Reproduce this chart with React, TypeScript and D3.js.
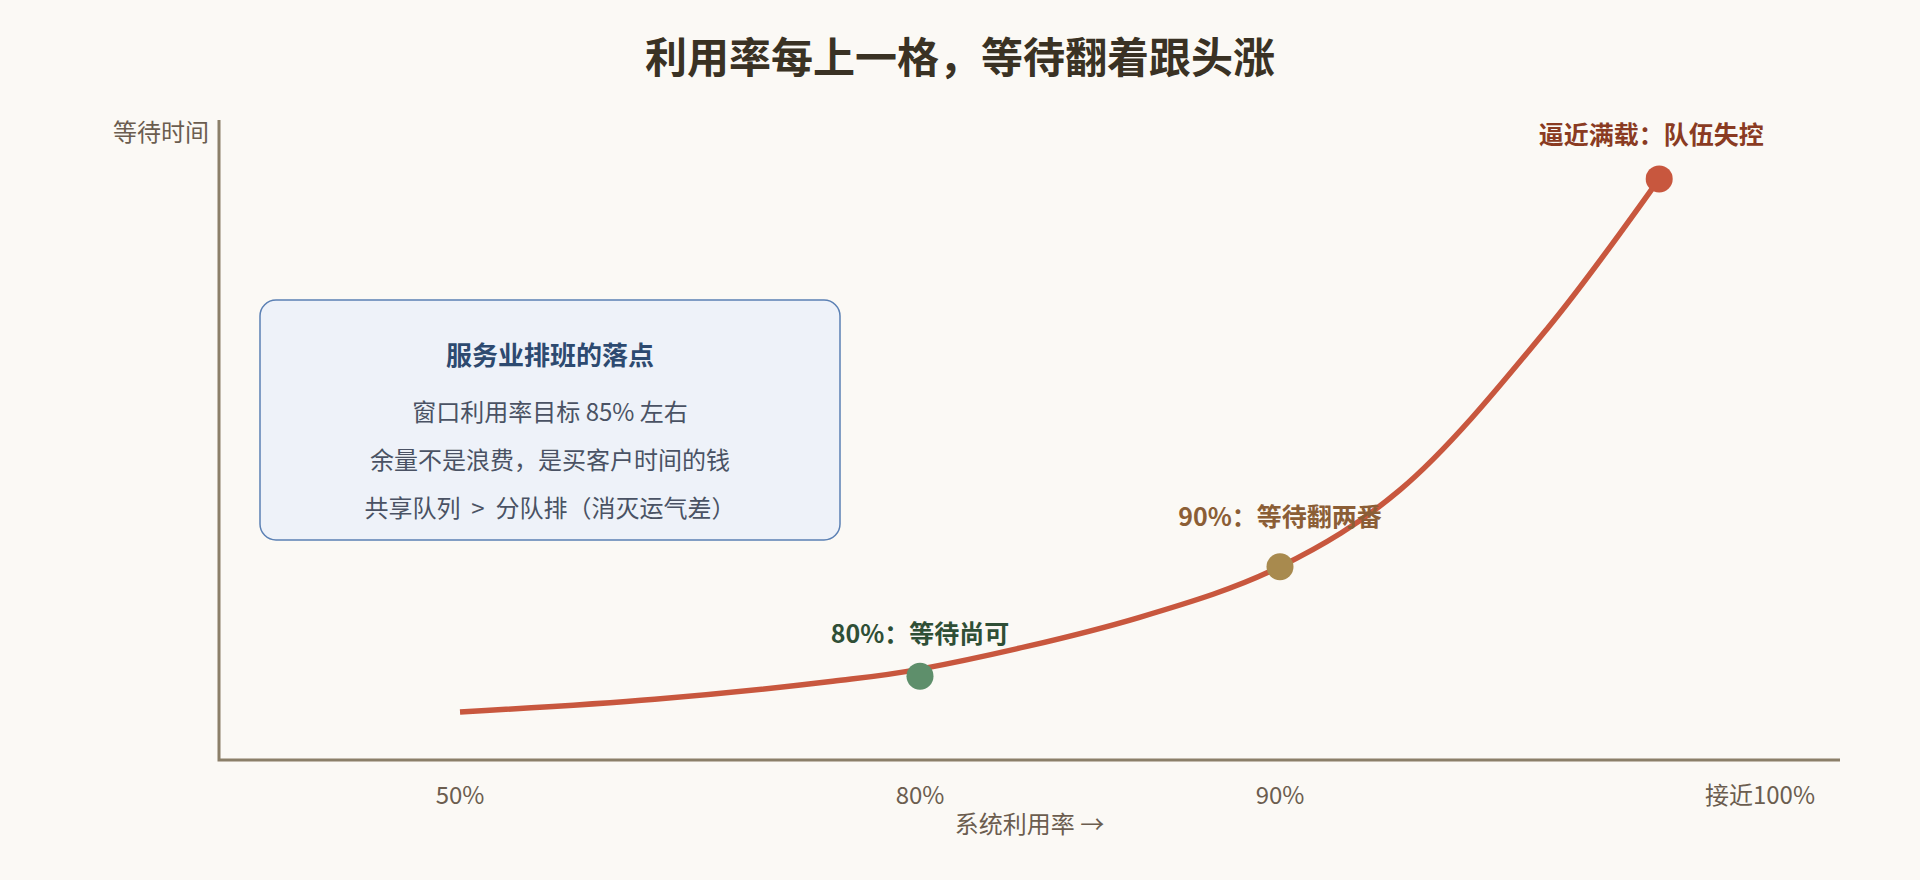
import * as React from 'react';
import * as d3 from 'd3';

// wait curve: utilization (%) -> relative wait index (0-100)
const curveUtil = [50, 62.7, 74.3, 80, 86.1, 90, 92.5, 95.6, 97.9];
const curveWait = [7.5, 9.5, 12.3, 14.2, 22.3, 30.2, 42.2, 67.7, 90.8];

// highlighted points
const markerUtil = [80, 90, 97.9];
const markerWait = [13.1, 30.2, 90.8];
const markerLabels = ['80%：等待尚可', '90%：等待翻两番', '逼近满载：队伍失控'];

// x ticks
const tickValues = [50, 80, 90, 100];
const tickLabels = ['50%', '80%', '90%', '接近100%'];

const noteTitle = '服务业排班的落点';
const noteLines = [
  '窗口利用率目标 85% 左右',
  '余量不是浪费，是买客户时间的钱',
  '共享队列\u00a0\u00a0>\u00a0\u00a0分队排（消灭运气差）',
];

const FONT = '"Noto Sans CJK SC", "Noto Sans", sans-serif';
const W = 1920;
const H = 880;
const plot = { left: 219, right: 1840, top: 120, bottom: 760 };

const markerFill = ['#5e8f6b', '#a88a4e', '#c8573e'];
const labelFill = ['#2f4f36', '#8b5e36', '#8a3b22'];
const labelDx = [0, 0, -8];
const labelDy = [-33, -41, -35];

export default function App() {
  // the x axis is stretched near full load, so piecewise linear
  const x = d3.scaleLinear().domain(tickValues).range([460, 920, 1280, 1760]);
  const y = d3.scaleLinear().domain([0, 100]).range([plot.bottom, plot.top]);

  const line = d3.line<number>()
    .x((i) => x(curveUtil[i]))
    .y((i) => y(curveWait[i]))
    .curve(d3.curveCatmullRom.alpha(0.5));
  const path = line(d3.range(curveUtil.length)) as string;

  const box = { x: 260, y: 300, w: 580, h: 240 };
  const cx = box.x + box.w / 2;

  return (
    <div style={{ position: 'fixed', left: 0, top: 0, width: W, height: H, background: '#fbf9f5' }}>
      <svg width={W} height={H} style={{ display: 'block' }} fontFamily={FONT}>
        <rect width={W} height={H} fill="#fbf9f5" />

        <text x={W / 2} y={73} textAnchor="middle" fontSize={42} fontWeight="bold" fill="#3a3224">
          利用率每上一格，等待翻着跟头涨
        </text>

        {/* axes */}
        <path d={`M${plot.left},${plot.top}V${plot.bottom}H${plot.right}`} fill="none" stroke="#8b7f69" strokeWidth={3} />
        <text x={plot.left - 10} y={141} textAnchor="end" fontSize={24} fill="#6b5d4f">等待时间</text>
        {tickValues.map((v, i) => (
          <text key={v} x={x(v)} y={804} textAnchor="middle" fontSize={24} fill="#6b5d4f">{tickLabels[i]}</text>
        ))}
        <text x={(plot.left + plot.right) / 2} y={833} textAnchor="middle" fontSize={24} fill="#6b5d4f">系统利用率 →</text>

        {/* note box */}
        <rect x={box.x} y={box.y} width={box.w} height={box.h} rx={16} ry={16} fill="#eef2f9" stroke="#5b80b4" strokeWidth={1.5} />
        <text x={cx} y={365} textAnchor="middle" fontSize={26} fontWeight="bold" fill="#2d4a70">{noteTitle}</text>
        {noteLines.map((t, i) => (
          <text key={i} x={cx} y={421 + i * 48} textAnchor="middle" fontSize={24} fill="#4a5264">{t}</text>
        ))}

        {/* curve */}
        <path d={path} fill="none" stroke="#c8573e" strokeWidth={5.5} />

        {markerUtil.map((u, i) => (
          <g key={i}>
            <circle cx={x(u)} cy={y(markerWait[i])} r={13.5} fill={markerFill[i]} />
            <text x={x(u) + labelDx[i]} y={y(markerWait[i]) + labelDy[i]} textAnchor="middle" fontSize={25} fontWeight="bold" fill={labelFill[i]}>
              {markerLabels[i]}
            </text>
          </g>
        ))}
      </svg>
    </div>
  );
}
